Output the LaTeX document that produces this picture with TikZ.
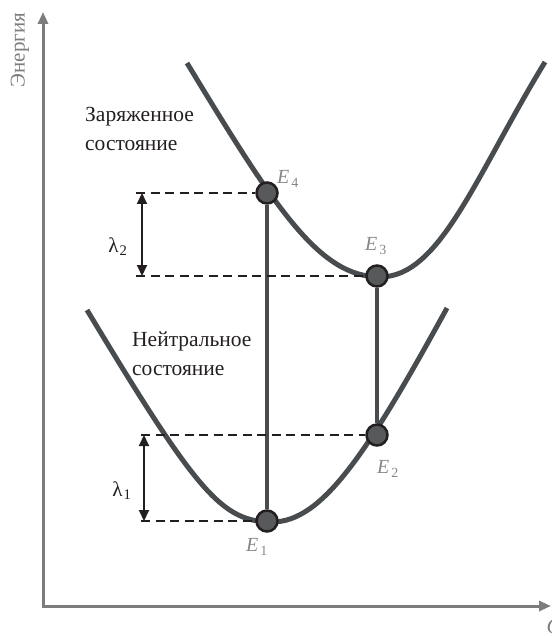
\documentclass[tikz,border=0pt]{standalone}
\usepackage{fontspec}
\setmainfont{Liberation Serif}
\usetikzlibrary{arrows.meta}
\definecolor{pecurve}{RGB}{72,76,79}
\definecolor{peaxis}{RGB}{122,124,126}
\definecolor{pedot}{RGB}{88,89,91}
\definecolor{pelabel}{RGB}{135,135,135}
\definecolor{peline}{RGB}{35,31,32}

\begin{document}
\begin{tikzpicture}[x=1pt, y=-1pt,
        axis/.style={line width=3pt, draw=peaxis, {Triangle[length=12pt,width=10pt]}-{Triangle[length=12pt,width=10pt]}},
        curve/.style={line width=5pt, draw=pecurve},
        drop/.style={line width=3.5pt, draw=pecurve},
        guide/.style={line width=2pt, draw=peline, dash pattern=on 9pt off 5.5pt},
        gap/.style={line width=2pt, draw=peline, {Triangle[length=11pt,width=10pt]}-{Triangle[length=11pt,width=10pt]}},
        dot/.style={circle, draw=peline, line width=2.5pt, fill=pedot, minimum size=21pt, inner sep=0pt},
        elabel/.style={font=\fontsize{20}{24}\selectfont, text=pelabel},
        state/.style={font=\fontsize{21.5}{29}\selectfont, align=left, anchor=north west, inner sep=0pt, text=peline},
        lam/.style={font=\fontsize{21}{24}\selectfont, text=peline}
      ]
      \useasboundingbox (0,0) rectangle (551,636);

      \coordinate (ytop) at (43,12);
      \coordinate (xend) at (551,606);
      \draw[axis] (ytop) |- (xend);
      \node[rotate=90, text=peaxis, font=\fontsize{21}{24}\selectfont] (elab) at (20,50) {Энергия};
      \node[anchor=west, text=peaxis, font=\fontsize{21}{24}\selectfont\itshape] (qlab) at (543,628) {Q};

      \coordinate (ctop) at (187,63);
      \coordinate (cmin) at (380,277);
      \coordinate (cright) at (545,62);
      \draw[curve] (ctop) .. controls (277,211.5) and (320,277) .. (cmin)
        .. controls (440,277) and (475,177) .. (cright);
      \coordinate (ntop) at (87,310);
      \coordinate (nmin) at (272,522);
      \coordinate (nright) at (447,308);
      \draw[curve] (ntop) .. controls (197,492.6) and (222,522) .. (nmin)
        .. controls (322,522) and (367,454) .. (nright);

      \node[state] (charged) at (85,107) {Заряженное\\состояние};
      \node[state] (neutral) at (132,332) {Нейтральное\\состояние};

      \node[dot] (e4) at (267,193) {};
      \node[dot] (e3) at (377,276) {};
      \node[dot] (e2) at (377,435) {};
      \node[dot] (e1) at (267,521) {};
      \draw[drop] (e4) -- (e1);
      \draw[drop] (e3) -- (e2);

      \coordinate (g4) at (136,193);
      \coordinate (g3) at (136,276);
      \coordinate (g2) at (141,435);
      \coordinate (g1) at (141,521);
      \draw[guide] (g4) -- (e4);
      \draw[guide] (g3) -- (e3);
      \draw[guide] (g2) -- (e2);
      \draw[guide] (g1) -- (e1);

      \coordinate (a2t) at (142,193);
      \coordinate (a2b) at (142,276);
      \coordinate (a1t) at (144,435);
      \coordinate (a1b) at (144,521);
      \draw[gap] (a2t) -- (a2b);
      \draw[gap] (a1t) -- (a1b);
      \node[lam] (lam2) at (118,247) {λ\kern1pt\textsubscript{2}};
      \node[lam] (lam1) at (122,491) {λ\kern1pt\textsubscript{1}};

      \node[elabel] (le4) at (288,179) {\textit{E}\kern2pt\textsubscript{4}};
      \node[elabel] (le3) at (376,246) {\textit{E}\kern2pt\textsubscript{3}};
      \node[elabel] (le2) at (388,469) {\textit{E}\kern2pt\textsubscript{2}};
      \node[elabel] (le1) at (257,547) {\textit{E}\kern2pt\textsubscript{1}};
    \end{tikzpicture}
\end{document}
